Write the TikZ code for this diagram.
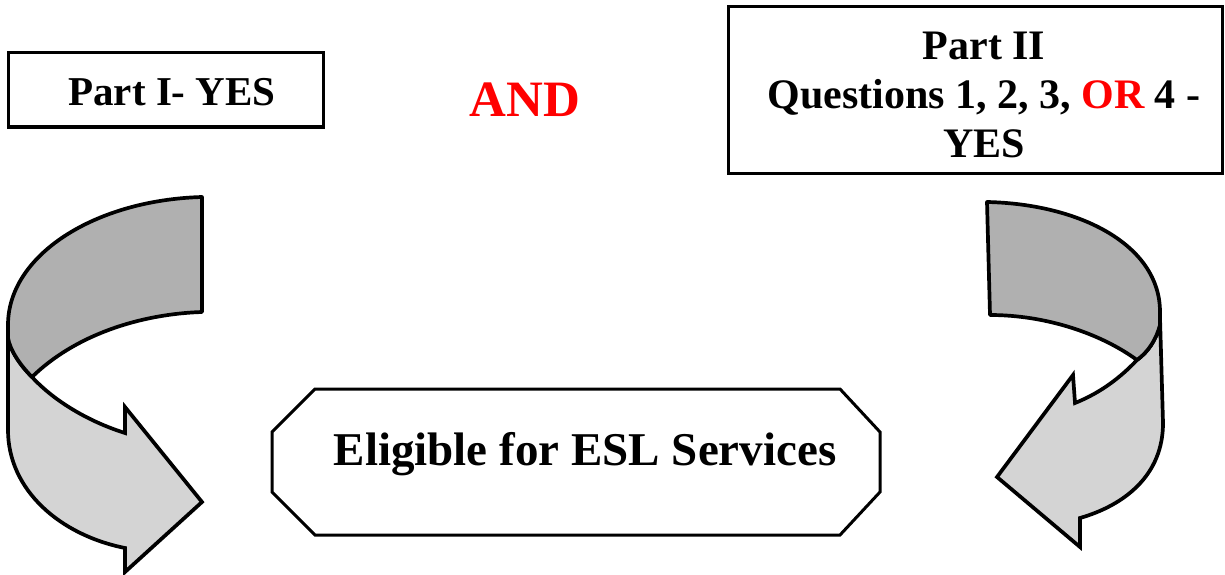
\documentclass[tikz,border=0pt]{standalone}
\usepackage{fontspec}
\setmainfont{Liberation Serif}
\begin{document}
\begin{tikzpicture}[x=1pt,y=-1pt,
  boxstyle/.style={draw=black,line width=3pt,rectangle,inner sep=0pt,align=center},
  txtA/.style={font=\bfseries\fontsize{41}{48}\selectfont},
  txtB/.style={font=\bfseries\fontsize{42}{49}\selectfont,align=center,inner sep=0pt},
  txtC/.style={font=\bfseries\fontsize{47}{54}\selectfont},
  txtAnd/.style={font=\bfseries\fontsize{51}{58}\selectfont,text=red},
  darkband/.style={fill=black!31,draw=black,line width=3.7pt,line join=round},
  lightband/.style={fill=black!17,draw=black,line width=3.7pt,line join=miter},
  octo/.style={draw=black,line width=3pt,line join=miter}]
\useasboundingbox (0,0) rectangle (1225,575);
% top boxes
\node[boxstyle,txtA,minimum width=315pt,minimum height=74pt,text height=32pt,text depth=0pt] (p1) at (165.5,90) {\hspace*{13pt}Part I- YES};
\node[txtAnd,anchor=base] (and) at (525,117) {AND};
\node[boxstyle,minimum width=494pt,minimum height=166pt] (p2) at (975,90) {};
\node[txtB] (p2t) at (984,95) {Part II\\Questions 1, 2, 3, \textcolor{red}{OR} 4 -\\YES};
% octagon
\draw[octo] (315,389) -- (840,389) -- (880,432) -- (880,492) -- (840,535) -- (315,535) -- (272,492) -- (272,432) -- cycle;
\node[txtC,anchor=base] (elig) at (585,465) {Eligible for ESL Services};
% left arrow
\draw[lightband] (8,328) -- (8,430) .. controls (8,490) and (60,535) .. (125,548) -- (125,572) -- (202,502) -- (125,407) -- (125,433)
  .. controls (90,422) and (55,402) .. (32,377) .. controls (20,365) and (10,350) .. (8,338) -- cycle;
\draw[darkband] (202,197) .. controls (95,200) and (8,255) .. (8,325) -- (8,338) .. controls (10,350) and (20,365) .. (32,377)
  .. controls (75,335) and (140,314) .. (202,312) -- cycle;
% right arrow
\draw[lightband] (1160,318) -- (1163,423) .. controls (1163,475) and (1125,505) .. (1080,518) -- (1080,547) -- (997,477) -- (1073,375) -- (1075,403)
  .. controls (1100,393) and (1120,378) .. (1137,360) .. controls (1148,352) and (1156,340) .. (1160,325) -- cycle;
\draw[darkband] (987,202) .. controls (1080,204) and (1160,245) .. (1160,312) -- (1160,325) .. controls (1156,340) and (1148,352) .. (1137,360)
  .. controls (1100,333) and (1045,315) .. (990,315) -- cycle;
\end{tikzpicture}
\end{document}
